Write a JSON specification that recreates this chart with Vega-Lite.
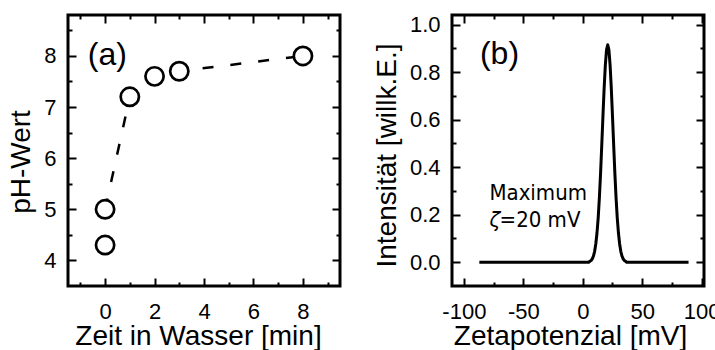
{
  "$schema": "https://vega.github.io/schema/vega-lite/v6.json",
  "padding": {"left": 5, "top": 12, "right": 0, "bottom": 0},
  "autosize": {"type": "pad"},
  "bounds": "flush",
  "spacing": 112,
  "background": "white",
  "config": {
    "view": {"stroke": "black", "strokeWidth": 3},
    "font": "Liberation Sans",
    "axis": {
      "domain": false, "grid": false, "tickColor": "black", "tickWidth": 2,
      "labelColor": "black", "titleColor": "black", "labelFontSize": 22,
      "titleFontSize": 28, "titleFontWeight": "normal",
      "labelFont": "Liberation Sans", "titleFont": "Liberation Sans",
      "labelOverlap": false, "labelFlush": false
    }
  },
  "hconcat": [
    {
      "width": 272, "height": 271,
      "data": {"values": [
        {"t": 0, "ph": 4.3}, {"t": 0, "ph": 5.0}, {"t": 1, "ph": 7.2},
        {"t": 2, "ph": 7.6}, {"t": 3, "ph": 7.7}, {"t": 8, "ph": 8.0}
      ]},
      "resolve": {"axis": {"x": "independent", "y": "independent"}},
      "layer": [
        {
          "transform": [{"filter": "datum.ph > 4.5"}],
          "mark": {"type": "line", "color": "black", "strokeWidth": 2.5, "strokeDash": [11, 17]},
          "encoding": {
            "x": {"field": "t", "type": "quantitative",
              "scale": {"domain": [-1.5, 9.5], "nice": false, "zero": false},
              "axis": {"orient": "bottom", "values": [-1,0,1,2,3,4,5,6,7,8,9],
                "tickSize": {"condition": {"test": "datum.value % 2 === 0", "value": -8}, "value": -4},
                "labelExpr": "datum.value % 2 === 0 ? '' + datum.value : ''",
                "labelPadding": 23, "title": "Zeit in Wasser [min]",
                "titleX": 130, "titleY": 58, "titleBaseline": "alphabetic"}},
            "y": {"field": "ph", "type": "quantitative",
              "scale": {"domain": [3.5, 8.8], "nice": false, "zero": false},
              "axis": {"orient": "left", "values": [4,4.5,5,5.5,6,6.5,7,7.5,8,8.5],
                "tickSize": {"condition": {"test": "datum.value % 1 === 0", "value": -8}, "value": -4},
                "labelExpr": "datum.value % 1 === 0 ? '' + datum.value : ''",
                "labelPadding": 20, "title": "pH-Wert",
                "titleX": -39, "titleY": 146.5, "titleBaseline": "alphabetic"}}
          }
        },
        {
          "mark": {"type": "circle", "size": 333, "fill": "white", "stroke": "black", "strokeWidth": 2.7, "opacity": 1},
          "encoding": {
            "x": {"field": "t", "type": "quantitative", "axis": null},
            "y": {"field": "ph", "type": "quantitative", "axis": null}
          }
        },
        {
          "mark": {"type": "point", "opacity": 0},
          "encoding": {
            "x": {"field": "t", "type": "quantitative",
              "axis": {"orient": "top", "values": [-1,0,1,2,3,4,5,6,7,8,9], "labels": false, "title": null,
                "tickSize": {"condition": {"test": "datum.value % 2 === 0", "value": -8}, "value": -4}}},
            "y": {"field": "ph", "type": "quantitative",
              "axis": {"orient": "right", "values": [4,4.5,5,5.5,6,6.5,7,7.5,8,8.5], "labels": false, "title": null,
                "tickSize": {"condition": {"test": "datum.value % 1 === 0", "value": -8}, "value": -4}}}
          }
        },
        {
          "data": {"values": [{}]},
          "mark": {"type": "text", "text": "(a)", "fontSize": 32, "align": "left", "baseline": "alphabetic", "font": "Liberation Sans", "color": "black"},
          "encoding": {
            "x": {"datum": -0.7, "type": "quantitative", "axis": null},
            "y": {"datum": 7.82, "type": "quantitative", "axis": null}
          }
        }
      ]
    },
    {
      "width": 252, "height": 271,
      "data": {"values": [
        {"z": -87, "i": 0}, {"z": 5, "i": 0}, {"z": 6, "i": 0.004}, {"z": 7, "i": 0.007},
        {"z": 8, "i": 0.014}, {"z": 9, "i": 0.026}, {"z": 10, "i": 0.046}, {"z": 11, "i": 0.078},
        {"z": 12, "i": 0.124}, {"z": 13, "i": 0.188}, {"z": 14, "i": 0.273}, {"z": 15, "i": 0.376},
        {"z": 16, "i": 0.494}, {"z": 17, "i": 0.616}, {"z": 18, "i": 0.733}, {"z": 19, "i": 0.829},
        {"z": 20, "i": 0.893}, {"z": 21, "i": 0.915}, {"z": 22, "i": 0.893}, {"z": 23, "i": 0.829},
        {"z": 24, "i": 0.733}, {"z": 25, "i": 0.616}, {"z": 26, "i": 0.494}, {"z": 27, "i": 0.376},
        {"z": 28, "i": 0.273}, {"z": 29, "i": 0.188}, {"z": 30, "i": 0.124}, {"z": 31, "i": 0.078},
        {"z": 32, "i": 0.046}, {"z": 33, "i": 0.026}, {"z": 34, "i": 0.014}, {"z": 35, "i": 0.007},
        {"z": 36, "i": 0.004}, {"z": 37, "i": 0}, {"z": 89, "i": 0}
      ]},
      "resolve": {"axis": {"x": "independent", "y": "independent"}},
      "layer": [
        {
          "mark": {"type": "line", "color": "black", "strokeWidth": 3, "strokeJoin": "round"},
          "encoding": {
            "x": {"field": "z", "type": "quantitative",
              "scale": {"domain": [-110, 102], "nice": false, "zero": false},
              "axis": {"orient": "bottom", "values": [-100,-75,-50,-25,0,25,50,75,100],
                "tickSize": {"condition": {"test": "datum.value % 50 === 0", "value": -8}, "value": -4},
                "labelExpr": "datum.value % 50 === 0 ? '' + datum.value : ''",
                "labelPadding": 23, "title": "Zetapotenzial [mV]",
                "titleX": 118, "titleY": 58, "titleBaseline": "alphabetic"}},
            "y": {"field": "i", "type": "quantitative",
              "scale": {"domain": [-0.1, 1.04], "nice": false, "zero": false},
              "axis": {"orient": "left", "values": [0,0.1,0.2,0.3,0.4,0.5,0.6,0.7,0.8,0.9,1.0],
                "format": ".1f",
                "tickSize": {"condition": {"test": "round(datum.value * 10) % 2 === 0", "value": -8}, "value": -4},
                "labelExpr": "round(datum.value * 10) % 2 === 0 ? datum.label : ''",
                "labelPadding": 20, "title": "Intensität [willk.E.]",
                "titleX": -57, "titleY": 140, "titleBaseline": "alphabetic"}}
          }
        },
        {
          "mark": {"type": "point", "opacity": 0},
          "encoding": {
            "x": {"field": "z", "type": "quantitative",
              "axis": {"orient": "top", "values": [-100,-75,-50,-25,0,25,50,75,100], "labels": false, "title": null,
                "tickSize": {"condition": {"test": "datum.value % 50 === 0", "value": -8}, "value": -4}}},
            "y": {"field": "i", "type": "quantitative",
              "axis": {"orient": "right", "values": [0,0.1,0.2,0.3,0.4,0.5,0.6,0.7,0.8,0.9,1.0], "labels": false, "title": null,
                "tickSize": {"condition": {"test": "round(datum.value * 10) % 2 === 0", "value": -8}, "value": -4}}}
          }
        },
        {
          "data": {"values": [{}]},
          "mark": {"type": "text", "text": "(b)", "fontSize": 32, "align": "left", "baseline": "alphabetic", "font": "Liberation Sans", "color": "black"},
          "encoding": {
            "x": {"datum": -86.5, "type": "quantitative", "axis": null},
            "y": {"datum": 0.834, "type": "quantitative", "axis": null}
          }
        },
        {
          "data": {"values": [{}]},
          "mark": {"type": "text", "text": "Maximum", "fontSize": 22, "align": "left", "baseline": "alphabetic", "font": "'Liberation Sans Narrow', 'DejaVu Sans Condensed', 'Liberation Sans'", "color": "black"},
          "encoding": {
            "x": {"datum": -78.5, "type": "quantitative", "axis": null},
            "y": {"datum": 0.2625, "type": "quantitative", "axis": null}
          }
        },
        {
          "data": {"values": [{}]},
          "mark": {"type": "text", "text": "ζ", "fontSize": 22, "fontStyle": "italic", "align": "left", "baseline": "alphabetic", "font": "'Liberation Sans Narrow', 'DejaVu Sans Condensed', 'Liberation Sans'", "color": "black"},
          "encoding": {
            "x": {"datum": -78.5, "type": "quantitative", "axis": null},
            "y": {"datum": 0.150, "type": "quantitative", "axis": null}
          }
        },
        {
          "data": {"values": [{}]},
          "mark": {"type": "text", "text": "=20 mV", "fontSize": 22, "align": "left", "baseline": "alphabetic", "font": "'Liberation Sans Narrow', 'DejaVu Sans Condensed', 'Liberation Sans'", "color": "black"},
          "encoding": {
            "x": {"datum": -70, "type": "quantitative", "axis": null},
            "y": {"datum": 0.150, "type": "quantitative", "axis": null}
          }
        }
      ]
    }
  ]
}
